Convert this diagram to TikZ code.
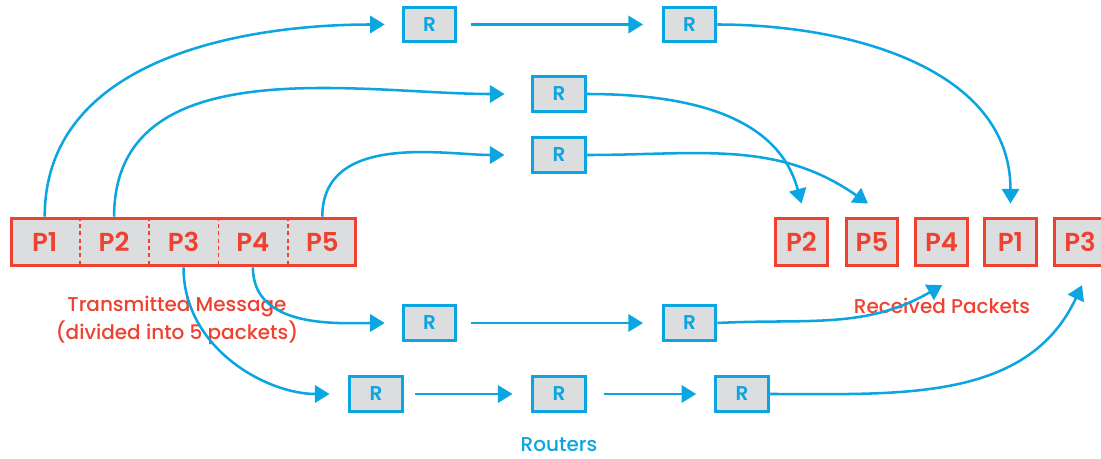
\documentclass[tikz,border=0pt]{standalone}
\usepackage{fontspec}
\setmainfont{Poppins}[BoldFont={Poppins SemiBold}]
\newfontfamily\medfont{Poppins Medium}
\usetikzlibrary{arrows.meta}
\definecolor{pred}{HTML}{EE4130}
\definecolor{pblue}{HTML}{0BA5E2}
\definecolor{pgray}{HTML}{DCDDDF}
\begin{document}
\begin{tikzpicture}[x=0.75pt,y=-0.75pt,
  router/.style={draw=pblue, line width=2.2pt, fill=pgray, minimum width=39.5pt, minimum height=26pt, inner sep=0pt, text=pblue, font=\bfseries\fontsize{15}{15}\selectfont},
  pkt/.style={draw=pred, line width=2.2pt, fill=pgray, minimum width=38.5pt, minimum height=35.5pt, inner sep=0pt, text=pred, font=\bfseries\fontsize{19.5}{19.5}\selectfont},
  msgbox/.style={draw=pred, line width=2.2pt, fill=pgray, minimum width=258.5pt, minimum height=35.5pt, inner sep=0pt},
  cell/.style={minimum width=52.05pt, minimum height=37.5pt, inner sep=0pt, text=pred, font=\bfseries\fontsize{19.5}{19.5}\selectfont},
  divider/.style={draw=pred, line width=1.3pt, dash pattern=on 3pt off 2.5pt},
  conn/.style={draw=pblue, line width=1.9pt, -{Triangle[length=11pt,width=13pt]}},
  lbl/.style={font=\medfont\fontsize{15}{21}\selectfont, align=center}
]
\useasboundingbox (0,0) rectangle (1101,458);

% transmitted message
\node[msgbox] (msg) at (183.5,242) {};
\node[cell] (c1) at (44.7,242) {P1};
\node[cell] (c2) at (114.1,242) {P2};
\node[cell] (c3) at (183.5,242) {P3};
\node[cell] (c4) at (252.9,242) {P4};
\node[cell] (c5) at (322.3,242) {P5};
\draw[divider] (c1.north east) -- (c1.south east);
\draw[divider] (c2.north east) -- (c2.south east);
\draw[divider] (c3.north east) -- (c3.south east);
\draw[divider] (c4.north east) -- (c4.south east);

% routers
\node[router] (r1a) at (429.5,24.5) {R};
\node[router] (r1b) at (689.5,24.5) {R};
\node[router] (r2) at (559,94) {R};
\node[router] (r3) at (559,155) {R};
\node[router] (r4a) at (429.5,323) {R};
\node[router] (r4b) at (689.5,323) {R};
\node[router] (r5a) at (376,394) {R};
\node[router] (r5b) at (559,394) {R};
\node[router] (r5c) at (742,394) {R};

% received packets
\node[pkt] (q2) at (801.5,242) {P2};
\node[pkt] (q5) at (872,242) {P5};
\node[pkt] (q4) at (941.5,242) {P4};
\node[pkt] (q1) at (1010.5,242) {P1};
\node[pkt] (q3) at (1080,242) {P3};

% labels
\node[lbl, text=pred] (tm) at (177,320) {Transmitted Message\\(divided into 5 packets)};
\node[lbl, text=pred] (rp) at (942,306) {Received Packets};
\node[lbl, text=pblue] (rt) at (559,445) {Routers};

% arrow end points near the received packets
\coordinate (t1) at ([yshift=10pt]q1.north);
\coordinate (t2) at ([yshift=10pt]q2.north);
\coordinate (t5) at ([xshift=-3pt,yshift=10pt]q5.north);
\coordinate (t4) at ([xshift=0.5pt,yshift=-13.5pt]q4.south);
\coordinate (t3) at ([xshift=1.5pt,yshift=-13.5pt]q3.south);

% source to first routers
\draw[conn, shorten >=12.75pt] (c1.north) to[out=90,in=180] (r1a.west);
\draw[conn, shorten >=20pt] (c2.north) to[out=90,in=180] (r2.west);
\draw[conn, shorten >=20pt] (c5.north) to[out=90,in=180] (r3.west);
\draw[conn, shorten >=12.75pt] (c4.south) to[out=-90,in=180] (r4a.west);
\draw[conn, shorten >=14pt] (c3.south) to[out=-90,in=180] (r5a.west);

% router to router
\draw[conn, shorten <=10.5pt, shorten >=14pt] (r1a.east) -- (r1b.west);
\draw[conn, shorten <=10.5pt, shorten >=14pt] (r4a.east) -- (r4b.west);
\draw[conn, shorten <=8.5pt, shorten >=14pt] (r5a.east) -- (r5b.west);
\draw[conn, shorten <=13pt, shorten >=13.5pt] (r5b.east) -- (r5c.west);

% last routers to destination
\draw[conn] (r1b.east) to[out=0,in=90] (t1);
\draw[conn] (r2.east) to[out=0,in=105] (t2);
\draw[conn] (r3.east) to[out=0,in=145] (t5);
\draw[conn] (r4b.east) to[out=3,in=-150] (t4);
\draw[conn] (r5c.east) to[out=0,in=-115] (t3);
\end{tikzpicture}
\end{document}
